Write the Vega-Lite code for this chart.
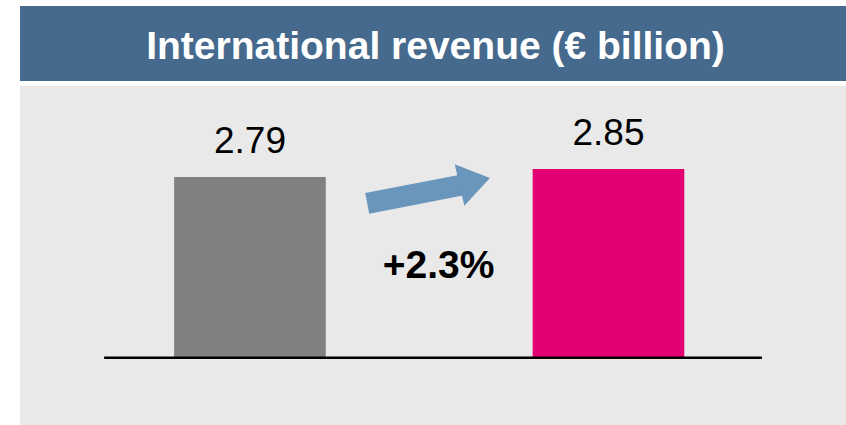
{
  "$schema": "https://vega.github.io/schema/vega-lite/v6.json",
  "background": "white",
  "padding": {"left": 20, "top": 6, "right": 0, "bottom": 0},
  "spacing": 5,
  "config": {"view": {"stroke": null}},
  "vconcat": [
    {
      "width": 826,
      "height": 75,
      "view": {"fill": "#456A8D", "stroke": null},
      "data": {"values": [{}]},
      "mark": {"type": "text", "text": "International revenue (€ billion)", "font": "Liberation Sans", "fontWeight": "bold", "fontSize": 39, "color": "white", "align": "center", "baseline": "alphabetic", "dy": 15, "dx": 2.5},
      "encoding": {}
    },
    {
      "width": 826,
      "height": 339,
      "view": {"fill": "#E9E9E9", "stroke": null},
      "data": {"values": [
        {"period": "Previous year", "revenue": 2.79},
        {"period": "Current year", "revenue": 2.85}
      ]},
      "resolve": {"scale": {"x": "independent"}},
      "layer": [
        {
          "encoding": {
            "x": {"field": "period", "type": "nominal", "sort": null, "axis": null, "scale": {"paddingInner": 0.577, "paddingOuter": 0.4405, "align": 0.488}},
            "y": {"field": "revenue", "type": "quantitative", "axis": null, "scale": {"domain": [0.93, 3.473], "zero": false, "nice": false}}
          },
          "layer": [
            {
              "mark": {"type": "bar"},
              "encoding": {
                "y2": {"datum": 1.4345},
                "color": {"field": "period", "type": "nominal", "legend": null, "scale": {"domain": ["Previous year", "Current year"], "range": ["#808080", "#E20074"]}}
              }
            },
            {
              "mark": {"type": "text", "baseline": "alphabetic", "dy": -24, "font": "Liberation Sans, Arial, sans-serif", "fontSize": 37, "color": "#000000"},
              "encoding": {"text": {"field": "revenue", "type": "quantitative", "format": ".2f"}}
            }
          ]
        },
        {
          "data": {"values": [{}]},
          "layer": [
            {
              "mark": {"type": "rule", "color": "#000000", "strokeWidth": 2.5},
              "encoding": {
                "x": {"datum": -0.407, "type": "quantitative", "axis": null, "scale": {"domain": [-0.6416, 1.6625], "zero": false, "nice": false}},
                "x2": {"datum": 1.428},
                "y": {"datum": 1.4345, "type": "quantitative"}
              }
            },
            {
              "mark": {"type": "rule", "color": "#6A96BC", "strokeWidth": 21, "strokeCap": "butt"},
              "encoding": {
                "x": {"datum": 0.3269, "type": "quantitative"},
                "x2": {"datum": 0.5914},
                "y": {"datum": 2.5923, "type": "quantitative"},
                "y2": {"datum": 2.7304}
              }
            },
            {
              "mark": {"type": "point", "shape": "M-0.73,-1L0.73,0L-0.73,1Z", "filled": true, "size": 1823, "angle": -13, "opacity": 1, "strokeWidth": 0, "color": "#6A96BC"},
              "encoding": {
                "x": {"datum": 0.6268, "type": "quantitative"},
                "y": {"datum": 2.7566, "type": "quantitative"}
              }
            },
            {
              "mark": {"type": "text", "text": "+2.3%", "font": "Liberation Sans", "fontWeight": "bold", "fontSize": 39, "color": "#000000", "align": "center", "baseline": "alphabetic"},
              "encoding": {
                "x": {"datum": 0.5258, "type": "quantitative"},
                "y": {"datum": 2.0305, "type": "quantitative"}
              }
            }
          ]
        }
      ]
    }
  ]
}
